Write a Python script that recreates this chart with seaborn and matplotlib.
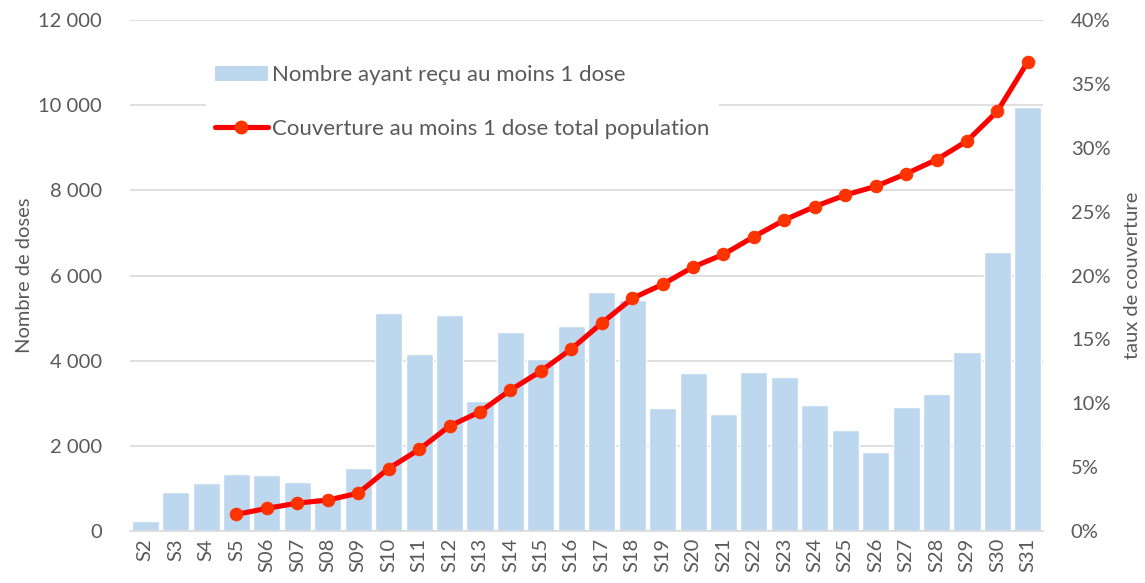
import seaborn as sns
import matplotlib.pyplot as plt
from matplotlib.ticker import FuncFormatter
from matplotlib.patches import Patch
from matplotlib.lines import Line2D
import numpy as np

weeks = ["S2", "S3", "S4", "S5", "S06", "S07", "S08", "S09", "S10", "S11",
         "S12", "S13", "S14", "S15", "S16", "S17", "S18", "S19", "S20", "S21",
         "S22", "S23", "S24", "S25", "S26", "S27", "S28", "S29", "S30", "S31"]
doses = [235, 915, 1120, 1340, 1315, 1150, 790, 1486, 5120, 4155,
         5070, 3052, 4670, 4045, 4820, 5610, 5430, 2880, 3710, 2740,
         3735, 3615, 2958, 2385, 1860, 2905, 3225, 4195, 6545, 9948]
cov_weeks = weeks[3:]
coverage = [1.31, 1.78, 2.19, 2.43, 2.97, 4.9, 6.39, 8.22, 9.34, 11.04,
            12.52, 14.25, 16.28, 18.21, 19.31, 20.67, 21.66, 23.04, 24.35, 25.4,
            26.3, 26.98, 27.97, 29.07, 30.53, 32.86, 36.74]

bar_label = "Nombre ayant reçu au moins 1 dose"
line_label = "Couverture au moins 1 dose total population"

sns.set_theme(style="white")
plt.rcParams["font.family"] = ["Lato", "DejaVu Sans"]
grey = "#595959"
fs = 14.5

fig = plt.figure(figsize=(11.45, 5.83), dpi=100)
ax = fig.add_axes([0.1135, 0.089, 0.7975, 0.8767])
sns.barplot(x=weeks, y=doses, color="#BDD7EE", saturation=1, width=0.89, ax=ax, zorder=2)
ax.set_ylim(0, 12000)
ax.set_yticks(range(0, 12001, 2000))
ax.yaxis.set_major_formatter(FuncFormatter(lambda v, p: f"{int(v):,}".replace(",", " ")))
ax.grid(axis="y", color="#D9D9D9", linewidth=1.2, zorder=0)
ax.set_axisbelow(True)
ax.set_ylabel("Nombre de doses", color=grey, fontsize=fs, labelpad=4)
ax.set_xlim(-0.5, len(weeks) - 0.5)
ax.tick_params(axis="x", rotation=90, labelsize=fs, colors=grey, length=0, pad=5)
ax.tick_params(axis="y", labelsize=fs, colors=grey, length=0, pad=20)
for s in ["left", "right", "top"]:
    ax.spines[s].set_visible(False)
ax.spines["bottom"].set_color("#D9D9D9")
ax.spines["bottom"].set_linewidth(1.2)

ax2 = ax.twinx()
pos = [weeks.index(w) for w in cov_weeks]
sns.lineplot(x=pos, y=coverage, ax=ax2, color="#FF0000", linewidth=3.7,
             marker="o", markersize=9, markerfacecolor="#FF3300",
             markeredgecolor="#FF3300", zorder=3)
ax2.set_ylim(0, 40)
ax2.set_yticks(range(0, 41, 5))
ax2.yaxis.set_major_formatter(FuncFormatter(lambda v, p: f"{int(v)}%"))
ax2.set_ylabel("taux de couverture", color=grey, fontsize=fs, labelpad=10)
ax2.tick_params(axis="y", labelsize=fs, colors=grey, length=0, pad=20)
for s in ["left", "right", "top", "bottom"]:
    ax2.spines[s].set_visible(False)

handles = [Patch(facecolor="#BDD7EE", edgecolor="none"),
           Line2D([0], [0], color="#FF0000", linewidth=3.7, marker="o",
                  markersize=9, markerfacecolor="#FF3300", markeredgecolor="#FF3300")]
leg = ax2.legend(handles, [bar_label, line_label], loc="upper left",
                 bbox_to_anchor=(0.170, 0.922), bbox_transform=fig.transFigure,
                 frameon=True, facecolor="white", edgecolor="none", framealpha=1,
                 fontsize=16, handlelength=2.4, handletextpad=0.2,
                 labelspacing=1.5, borderpad=0.4, fancybox=False)
for t in leg.get_texts():
    t.set_color(grey)

plt.savefig("out.png", dpi=100)
